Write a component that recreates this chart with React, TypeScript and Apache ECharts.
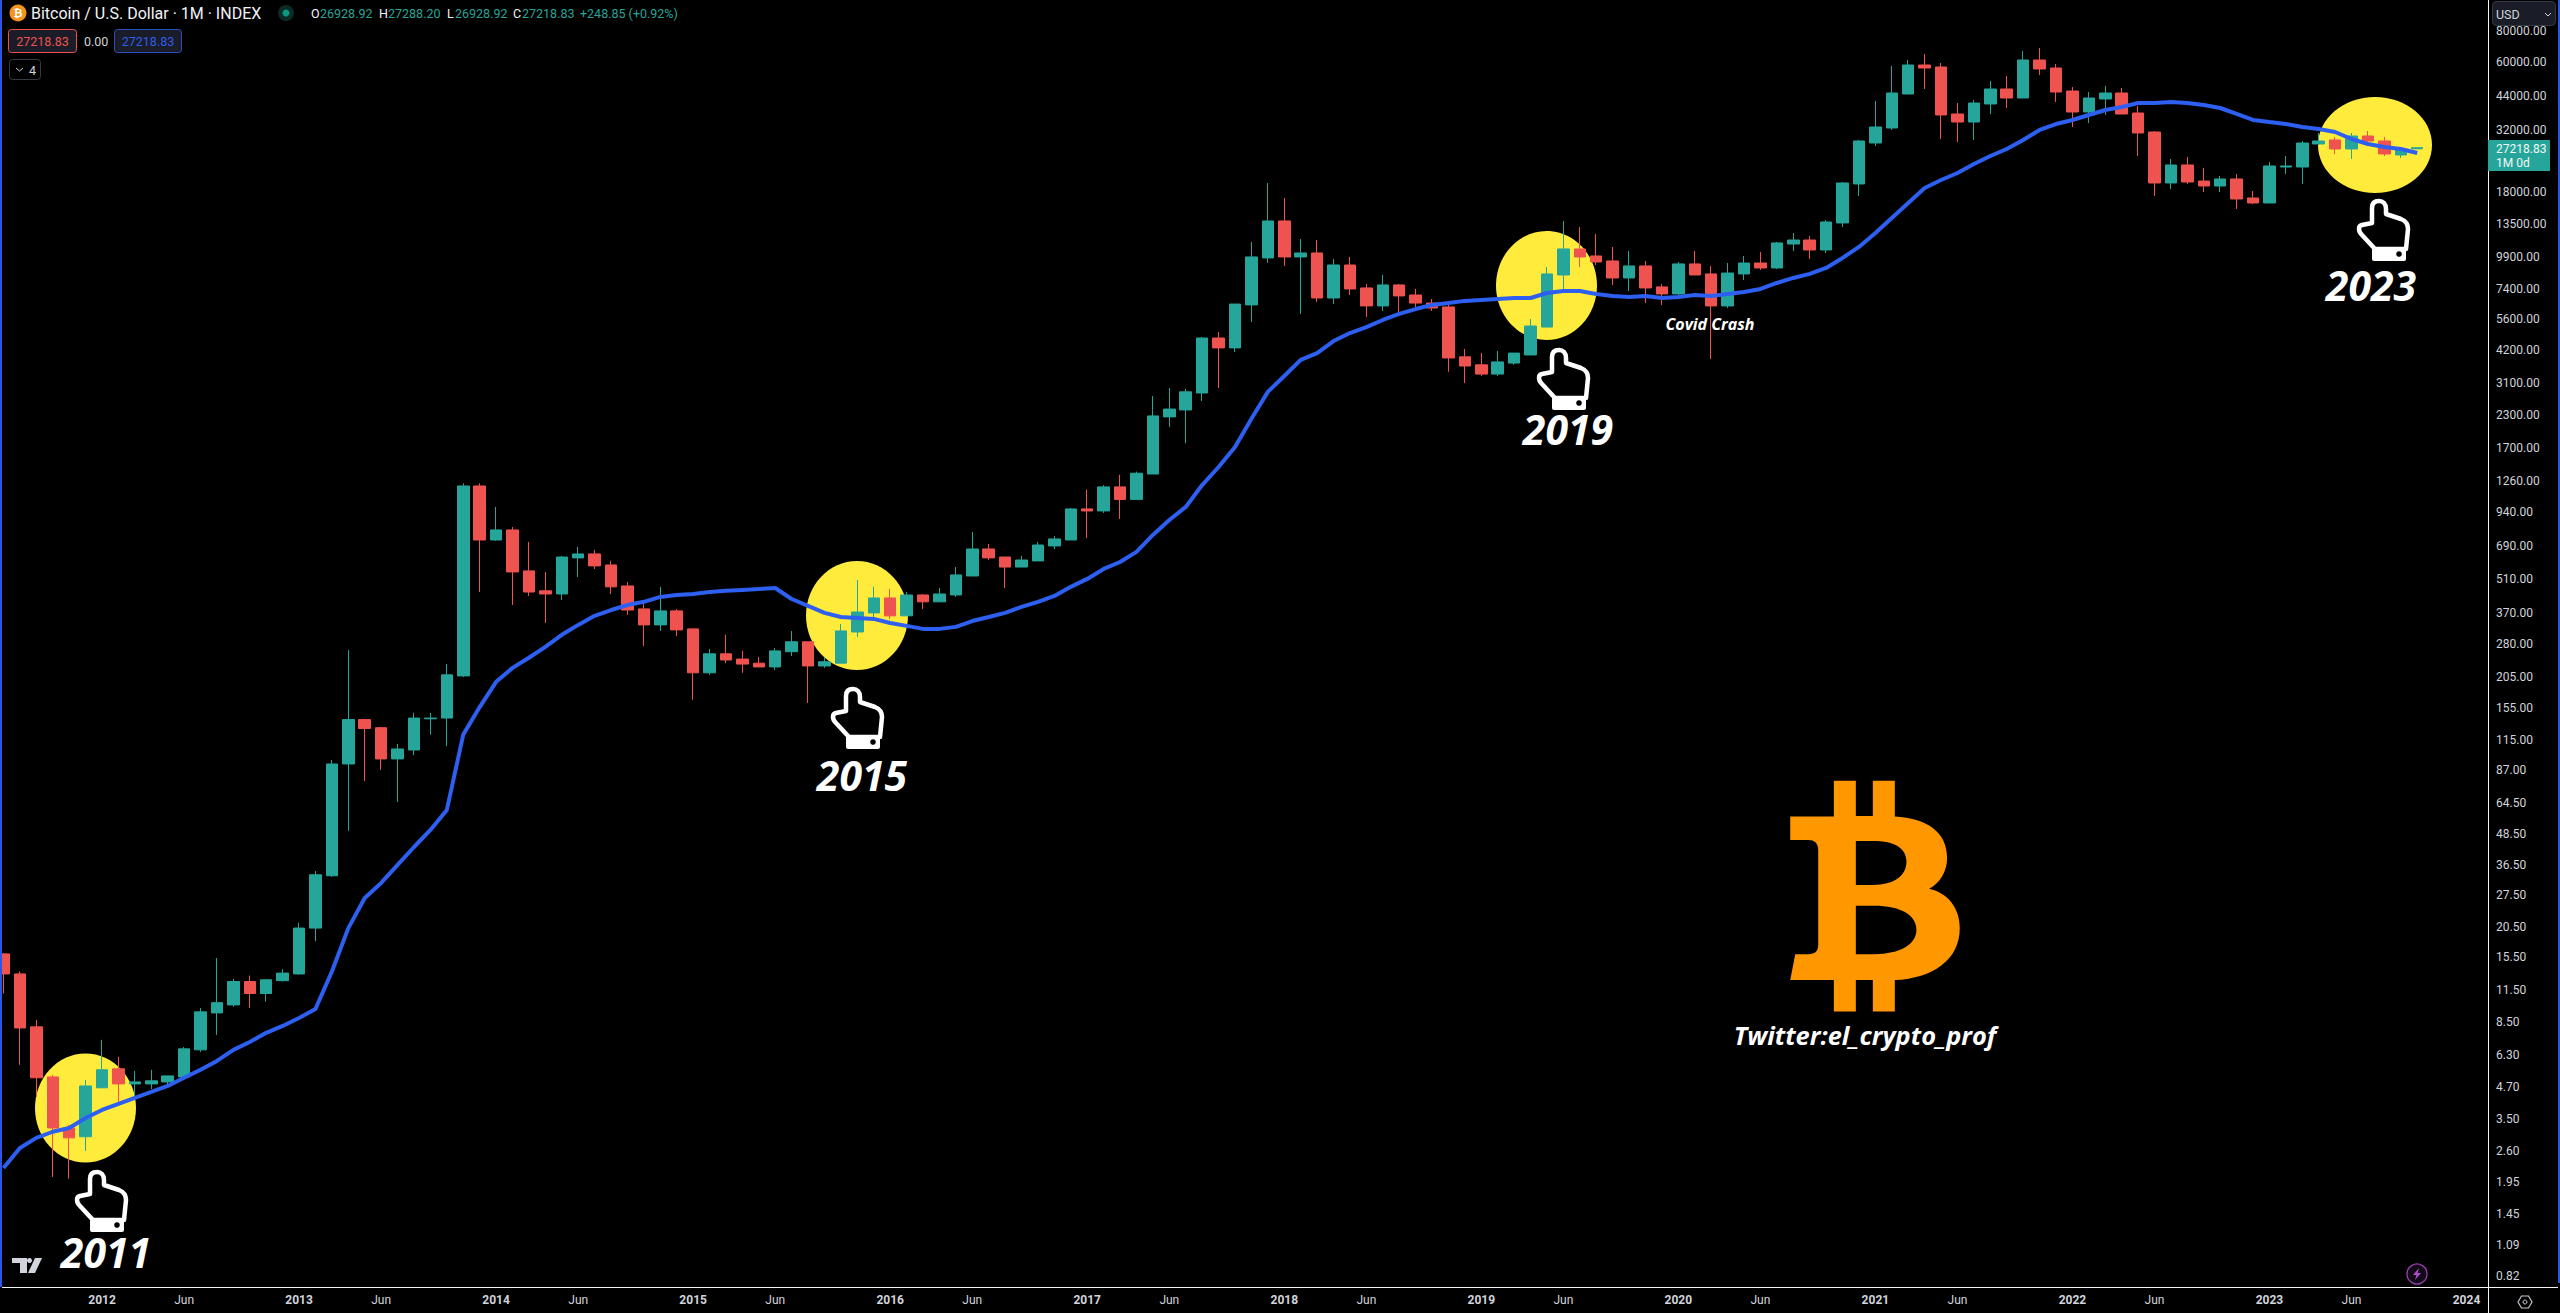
import React, { useEffect, useRef } from "react";
import * as echarts from "echarts";

const opens = [16.0,13.3,8.16,5.14,3.21,2.96,4.65,5.54,4.82,4.82,4.91,5.14,6.60,9.28,9.99,12.4,11.1,12.5,13.3,20.3,32.9,92.3,139,129,96.7,105,140,141,208,1200,729,800,548,456,443,618,641,
579,477,386,333,379,321,214,255,243,234,226,260,285,228,234,312,372,427,362,439,412,439,523,671,623,568,601,690,729,971,953,1190,1060,1340,2270,2420,2830,
4700,4290,6380,9840,13840,9930,10300,6800,9220,7460,6320,7670,6990,6490,6260,3950,3670,3370,3730,4020,5200,8410,10690,10020,9570,8180,9140,7530,7060,9310,8490,6320,8490,9390,8970,11190,11610,
10590,13590,19470,28420,32640,44660,58360,57300,37140,34490,40730,46770,43040,61120,56770,45920,37830,42650,45080,37480,31450,19650,23200,20010,19110,20390,17110,16340,22770,22770,28160,29220,26890,30310,28950,25440,26928.92];
const closes = [13.3,8.08,5.10,3.21,2.93,4.73,5.49,4.82,4.91,4.96,5.19,6.66,9.37,10.2,12.4,11.1,12.6,13.4,20.3,33.2,92.3,139,128,96.7,106,141,141,210,1200,729,800,543,451,443,623,641,574,
473,382,333,379,318,214,255,241,232,226,262,285,228,237,315,375,427,362,439,412,443,528,671,618,568,606,696,736,971,953,1190,1060,1350,2290,2440,2860,4700,
4290,6430,9930,13840,9930,10300,6800,9220,7390,6320,7670,6930,6490,6200,3910,3630,3370,3770,4090,5250,8490,10690,9930,9480,8180,9140,7460,7060,9310,8410,6320,8560,9390,8970,11300,11610,10590,
13710,19650,28950,32940,45080,58360,56770,36800,34490,41100,46770,43040,61120,56250,45490,37830,43040,45080,37140,31170,19650,23200,19830,19110,20390,16950,16340,22990,22990,28420,28950,26890,30310,28950,25680,26640,27218.83];
const lows = [11.1,5.75,4.28,2.04,2.01,2.60,4.65,4.05,4.28,4.60,4.78,5.10,6.48,7.58,9.81,9.72,10.3,12.4,13.2,18.0,32.6,49.8,78.9,87.4,65.0,100,121,109,206,451,723,400,435,339,419,518,558,
443,365,274,315,301,167,210,234,214,226,220,250,162,224,234,298,358,352,362,386,412,431,523,606,468,568,601,671,729,743,936,885,1060,1340,2070,1780,2630,
2960,4130,5450,9390,9140,5870,6550,6430,6990,5710,6030,5870,6200,6030,3440,3100,3310,3310,3670,4020,5200,7320,9050,9220,7670,7250,6490,6380,6990,8410,3870,6200,8030,8810,8890,10490,9750,
10300,13090,17430,27640,32040,44660,46770,29490,28680,29220,37140,39250,43040,53220,41480,32940,34180,36800,37140,25210,17430,18590,19470,18080,18080,15460,16190,16340,21350,19470,27900,25680,24520,27900,25210,24750,26928.92];
const highs = [16.1,13.6,8.70,5.24,3.30,5.00,7.24,6.19,5.44,5.49,5.19,6.78,9.72,15.4,12.7,13.1,12.6,13.9,21.3,34.4,95.8,264,140,130,111,148,148,232,1230,1230,989,822,716,543,629,684,665,
601,495,408,473,386,321,267,304,262,248,269,315,285,248,336,504,473,464,451,443,468,568,785,703,623,629,716,757,980,1160,1210,1330,1370,2750,2960,2940,4750,
4970,6430,11400,19650,17110,11720,11610,9750,9930,7740,8410,7740,7390,6740,6380,4250,4090,4170,4090,5600,9050,13840,13090,12270,10890,10490,9570,7740,9480,10490,9140,9390,10020,10400,11400,12390,12050,
13970,19830,29220,41870,57830,61120,64600,59450,41100,42260,50350,52730,66410,68270,58900,47640,45490,48080,47200,39980,31750,24520,24980,22560,20960,21350,18250,23850,25210,28950,31170,30040,31170,31750,30040,26640,27288.20];
const movingAverage = [2.22,2.67,2.93,3.10,3.21,3.52,3.79,4.01,4.24,4.48,4.73,5.10,5.49,5.96,6.60,7.10,7.72,8.23,8.86,9.63,13.6,20.3,26.8,30.8,36.4,42.9,50.2,60.4,121,156,197,224,246,272,304,333,362,
382,400,412,431,439,443,451,456,460,464,468,423,397,372,358,355,352,339,330,321,321,327,345,358,372,393,412,435,473,509,558,595,653,764,877,989,1210,
1430,1720,2230,2860,3310,3840,4090,4570,4920,5200,5550,5870,6140,6380,6490,6620,6680,6740,6800,6800,7120,7250,7250,7060,6930,6860,6930,6800,6860,6990,6930,7060,7190,7390,7810,8180,8490,
8970,9840,10890,12390,14230,16340,18760,20200,21550,23410,25210,26890,29220,32040,33860,35140,36800,38530,39610,41100,41100,41480,41100,40350,39250,37140,35140,34490,33860,32940,32340,31450,29490,28160,27390,26890,25910];
const priceTicks = [80000,60000,44000,32000,18000,13500,9900,7400,5600,4200,3100,2300,1700,1260,940,690,510,370,280,205,155,115,87,64.5,48.5,36.5,27.5,20.5,15.5,11.5,8.5,6.3,4.7,3.5,2.6,1.95,1.45,1.09,0.82];
const months: string[] = [];
for (let i = 0; i < 152; i++) {
  const t = 2011 * 12 + 6 + i;
  months.push(Math.floor(t / 12) + "-" + String((t % 12) + 1).padStart(2, "0"));
}
const yearCircles = [
  { cx: 85.5, cy: 1108, rx: 50.5, ry: 54.5 },
  { cx: 857, cy: 615.5, rx: 51, ry: 54.5 },
  { cx: 1546.5, cy: 285.5, rx: 50.5, ry: 54.5 },
  { cx: 2375, cy: 145, rx: 57, ry: 48 },
];
const hands = [[75, 1170], [831, 687], [1537, 348], [2357, 199]];
const yearLabels: [string, number, number][] = [["2011", 106, 1252], ["2015", 862, 775], ["2019", 1568, 429], ["2023", 2371, 285]];

const HAND = "M15 24 L15 9 C15 4 18 2 22 2 C26 2 29 5 29 10 L29 15 L44 20 C49 22 51 26 51 30 L49 50 L18 50 L5 36 C1 32 1 27 5 26 Z";
const BTC = "M402 62 L468 62 L468 168 L519 168 L519 62 L585 62 L585 170 C680 175 742 215 742 295 C742 335 720 370 688 387 C745 400 780 445 780 505 C780 600 700 655 585 661 L585 755 L519 755 L519 661 L468 661 L468 755 L402 755 L402 661 L271 661 L286 583 L325 583 C345 583 355 575 355 555 L355 270 C355 250 345 240 325 240 L271 240 L271 170 L402 170 Z M468 243 L468 375 L520 375 C580 375 620 350 620 305 C620 265 585 243 520 243 Z M468 438 L468 583 L525 583 C600 583 650 555 650 510 C650 465 600 438 525 438 Z";
echarts.graphic.registerShape("handIcon", echarts.graphic.extendPath(HAND, {}));
echarts.graphic.registerShape("btcMark", echarts.graphic.extendPath(BTC, {}));

const UI = "Roboto, sans-serif";
const label = (text: string, x: number, y: number, fill: string, size = 12.5, extra: any = {}) => ({
  type: "text", x, y, z: 100,
  style: { text, fill, font: `${extra.weight || "normal"} ${size}px ${UI}`, textAlign: extra.align || "left", textVerticalAlign: "middle" },
});
const box = (x: number, y: number, w: number, h: number, stroke: string, fill = "#000", r = 3) => ({
  type: "rect", z: 100, shape: { x, y, width: w, height: h, r }, style: { fill, stroke, lineWidth: 1 },
});
const fillRect = (x: number, y: number, w: number, h: number, fill: string) => ({
  type: "rect", z: 100, shape: { x, y, width: w, height: h }, style: { fill },
});

function buildGraphics() {
  const g: any[] = [];
  yearCircles.forEach((c) => g.push({ type: "ellipse", z: 0, shape: c, style: { fill: "#ffeb3b" } }));
  hands.forEach(([x, y]) => {
    g.push({ type: "handIcon", x, y, z: 100, style: { fill: "none", stroke: "#fff", lineWidth: 4.5, lineJoin: "round" } });
    g.push({ type: "rect", z: 100, shape: { x: x + 15, y: y + 49, width: 34, height: 13, r: 2 }, style: { fill: "#fff" } });
    g.push({ type: "circle", z: 101, shape: { cx: x + 42, cy: y + 55, r: 2.8 }, style: { fill: "#000" } });
  });
  yearLabels.forEach(([t, x, y]) =>
    g.push({ type: "text", x, y, z: 100, style: { text: t, fill: "#fff", font: "italic bold 41px 'Open Sans', sans-serif", textAlign: "center", textVerticalAlign: "middle" } })
  );
  g.push({ type: "text", x: 1710, y: 323.5, z: 100, style: { text: "Covid Crash", fill: "#fff", font: "italic bold 16px 'Open Sans', sans-serif", textAlign: "center", textVerticalAlign: "middle" } });
  g.push({ type: "text", x: 1865, y: 1035, z: 100, style: { text: "Twitter:el_crypto_prof", fill: "#fff", font: "italic bold 25.4px 'Open Sans', sans-serif", textAlign: "center", textVerticalAlign: "middle" } });
  g.push({ type: "btcMark", x: 1700, y: 760, scaleX: 1 / 3, scaleY: 1 / 3, z: 100, style: { fill: "#ff9800" } });

  // frame
  g.push(fillRect(0, 0, 2, 1287, "#2a57e8"));
  g.push(fillRect(2558, 0, 2, 1283, "#2a57e8"));
  g.push(fillRect(2488, 0, 1, 1313, "#f4f4f4"));
  g.push(fillRect(2, 1287, 2556, 1, "#f4f4f4"));

  // header
  g.push({ type: "circle", z: 100, shape: { cx: 18, cy: 13, r: 8.5 }, style: { fill: "#f7931a" } });
  g.push(label("₿", 18, 13, "#fff", 11, { align: "center", weight: "bold" }));
  g.push(label("Bitcoin / U.S. Dollar · 1M · INDEX", 31, 13.5, "#f0f3fa", 16));
  g.push({ type: "circle", z: 100, shape: { cx: 286, cy: 13, r: 8 }, style: { fill: "#0c2a26" } });
  g.push({ type: "circle", z: 101, shape: { cx: 286, cy: 13, r: 3.5 }, style: { fill: "#089981" } });
  const green = "#26a69a";
  [["O", 311, "26928.92", 320], ["H", 379, "27288.20", 388], ["L", 447, "26928.92", 455], ["C", 513, "27218.83", 522]].forEach(([a, ax, b, bx]: any) => {
    g.push(label(a, ax, 13.5, "#f0f3fa", 12.5));
    g.push(label(b, bx, 13.5, green, 12.5));
  });
  g.push(label("+248.85 (+0.92%)", 580, 13.5, green, 12.5));
  g.push(box(8.5, 29.5, 68, 23, "#ef5350", "#1a1c28"));
  g.push(label("27218.83", 42.5, 41.5, "#ef5350", 12.5, { align: "center" }));
  g.push(label("0.00", 84, 41.5, "#d1d4dc", 12.5));
  g.push(box(114.5, 29.5, 67, 23, "#2a4fc0", "#1a1c28"));
  g.push(label("27218.83", 148, 41.5, "#2f5fe8", 12.5, { align: "center" }));
  g.push(box(9.5, 59.5, 31, 20, "#363a45", "#000"));
  g.push({ type: "polyline", z: 101, shape: { points: [[16, 68], [19.5, 71], [23, 68]] }, style: { fill: "none", stroke: "#d1d4dc", lineWidth: 1 } });
  g.push(label("4", 29, 70, "#d1d4dc", 12.5));

  // price pane
  g.push(box(2492.5, 1.5, 63, 24, "#363a45", "#1a1c28", 4));
  g.push(label("USD", 2496, 14, "#d1d4dc", 12.5));
  g.push({ type: "polyline", z: 101, shape: { points: [[2545, 13], [2548, 16], [2551, 13]] }, style: { fill: "none", stroke: "#d1d4dc", lineWidth: 1 } });
  g.push(fillRect(2488, 140, 62, 31, "#26a69a"));
  g.push(label("27218.83", 2496, 149, "#f4f7f7", 12));
  g.push(label("1M 0d", 2496, 163, "#f4f7f7", 12));

  // TradingView mark
  g.push({ type: "polygon", z: 100, shape: { points: [[12, 1258], [27, 1258], [27, 1273], [20, 1273], [20, 1263], [12, 1263]] }, style: { fill: "#d1d4dc" } });
  g.push({ type: "circle", z: 100, shape: { cx: 29.5, cy: 1260.5, r: 2.5 }, style: { fill: "#d1d4dc" } });
  g.push({ type: "polygon", z: 100, shape: { points: [[35, 1258], [42, 1258], [35, 1273], [28, 1273]] }, style: { fill: "#d1d4dc" } });

  // bolt + settings
  g.push({ type: "circle", z: 100, shape: { cx: 2417, cy: 1274, r: 10 }, style: { fill: "#120a18", stroke: "#9c3fb0", lineWidth: 1.3 } });
  g.push({ type: "polygon", z: 101, shape: { points: [[2419, 1268], [2413, 1275], [2416.5, 1275], [2415, 1280], [2421, 1273], [2417.5, 1273]] }, style: { fill: "#b04fc8" } });
  g.push({ type: "polygon", z: 100, shape: { points: [[2518, 1302], [2521.5, 1296], [2528.5, 1296], [2532, 1302], [2528.5, 1308], [2521.5, 1308]] }, style: { fill: "none", stroke: "#c4c7cf", lineWidth: 1.2 } });
  g.push({ type: "circle", z: 100, shape: { cx: 2525, cy: 1302, r: 2 }, style: { fill: "none", stroke: "#c4c7cf", lineWidth: 1 } });
  return g;
}

export default function App() {
  const ref = useRef<HTMLDivElement>(null);
  useEffect(() => {
    document.body.style.margin = "0";
    document.body.style.background = "#000";
    const chart = echarts.init(ref.current!, undefined, { renderer: "svg" });
    chart.setOption({
      animation: false,
      backgroundColor: "#000",
      grid: { left: 3.5, top: 0, width: 2479.42, height: 1287, containLabel: false },
      xAxis: {
        type: "category",
        data: months,
        boundaryGap: false,
        axisLine: { show: false },
        axisTick: { show: false },
        splitLine: { show: false },
        axisLabel: {
          color: "#d1d4dc",
          fontFamily: UI,
          fontSize: 12,
          margin: 7,
          interval: (_i: number, v: string) => /-(01|06)$/.test(v),
          formatter: (v: string) => (v.endsWith("-01") ? `{y|${v.slice(0, 4)}}` : "Jun"),
          rich: { y: { fontWeight: "bold", fontSize: 12, fontFamily: UI, color: "#d1d4dc" } },
        },
      },
      yAxis: {
        type: "log",
        logBase: 10,
        min: 0.74,
        max: 106320,
        position: "right",
        axisLine: { show: false },
        axisTick: { show: false },
        splitLine: { show: false },
        axisLabel: {
          customValues: priceTicks,
          color: "#d1d4dc",
          fontFamily: UI,
          fontSize: 12,
          margin: 13.08,
          formatter: (v: number) => v.toFixed(2),
        },
      },
      series: [
        {
          type: "candlestick",
          barWidth: 12,
          clip: false,
          data: opens.map((o, i) => [o, closes[i], lows[i], highs[i]]),
          itemStyle: { color: "#26a69a", color0: "#ef5350", borderColor: "#26a69a", borderColor0: "#ef5350", borderWidth: 1 },
        },
        {
          type: "line",
          data: movingAverage,
          showSymbol: false,
          clip: false,
          lineStyle: { color: "#2d5ff0", width: 4 },
          z: 5,
        },
      ],
      graphic: { elements: buildGraphics() },
    });
    return () => chart.dispose();
  }, []);
  return <div ref={ref} style={{ width: 2560, height: 1313 }} />;
}
